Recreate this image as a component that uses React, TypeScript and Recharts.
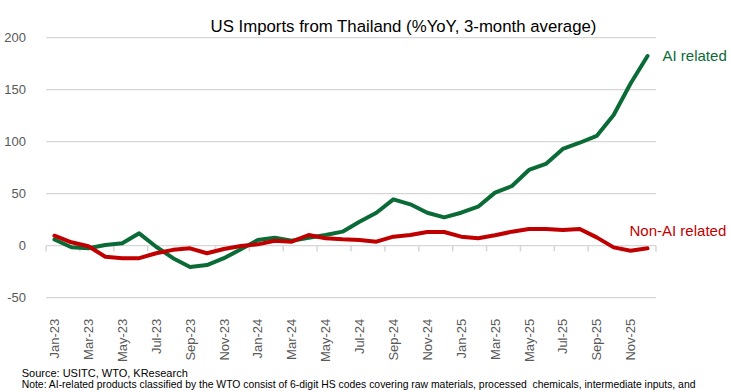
import React from "react";
import { LineChart, Line, XAxis, YAxis, CartesianGrid, ReferenceLine, LabelList } from "recharts";

const categories = [
  "Jan-23","Feb-23","Mar-23","Apr-23","May-23","Jun-23","Jul-23","Aug-23","Sep-23","Oct-23","Nov-23","Dec-23",
  "Jan-24","Feb-24","Mar-24","Apr-24","May-24","Jun-24","Jul-24","Aug-24","Sep-24","Oct-24","Nov-24","Dec-24",
  "Jan-25","Feb-25","Mar-25","Apr-25","May-25","Jun-25","Jul-25","Aug-25","Sep-25","Oct-25","Nov-25","Dec-25",
];
const aiRelated = [
  6, -1.5, -2.5, 0.7, 2.3, 11.9, -1, -12, -20.5, -18.6, -12, -3.5,
  5.5, 7.7, 4.8, 7.7, 10.3, 13.5, 23, 31.7, 44.6, 39.8, 31.7, 27.3,
  31.7, 37.5, 51, 57.4, 72.8, 78.6, 93, 99, 105.5, 125.7, 156, 182.4,
];
const nonAiRelated = [
  9.6, 3.3, -0.5, -10.6, -12, -12, -7.3, -4, -2.5, -7.3, -3.2, -0.3,
  1.3, 4.8, 3.9, 10.3, 7.1, 6.1, 5.5, 3.9, 8.7, 10.3, 13.2, 13.2,
  8.7, 7.1, 10, 13.5, 16, 16, 15.1, 16, 8, -1.6, -4.8, -2.5,
];
const yTicks = [-50, 0, 50, 100, 150, 200];
const seriesNames = { ai: "AI related", nonAi: "Non-AI related" };
const title = "US Imports from Thailand (%YoY, 3-month average)";
const sourceText = "Source: USITC, WTO, KResearch";
const noteText =
  "Note: AI-related products classified by the WTO consist of 6-digit HS codes covering raw materials, processed  chemicals, intermediate inputs, and";

const data = categories.map((c, i) => ({ month: c, ai: aiRelated[i], nonAi: nonAiRelated[i] }));
const tickMarkCats = categories.filter((_, i) => i % 2 === 0);

const FONT = "'Liberation Sans', Arial, sans-serif";
const GREEN = "#0b6b37";
const RED = "#c00000";
const GRID = "#d6d6d6";
const last = categories.length - 1;

const XTick = (props: any) => {
  const { x, y, payload } = props;
  return (
    <g transform={`translate(${x},${y + 13})`}>
      <text transform="rotate(-90)" textAnchor="end" dy="0.36em" fontSize={13} fill="#595959" fontFamily={FONT}>
        {payload.value}
      </text>
    </g>
  );
};

const makeEndLabel = (text: string, color: string, dx: number, dy: number, anchor: string) => (props: any) => {
  const { x, y, index } = props;
  if (index !== last) return null;
  return (
    <text x={x + dx} y={y + dy} dy="0.36em" textAnchor={anchor} fontSize={15} fill={color} fontFamily={FONT}>
      {text}
    </text>
  );
};

export default function App() {
  return (
    <div style={{ position: "absolute", left: 0, top: 0, width: 731, height: 392, background: "#fff" }}>
      <LineChart
        width={731}
        height={392}
        data={data}
        margin={{ top: 37.7, right: 75, bottom: 34.3, left: 0 }}
        style={{ fontFamily: FONT }}
      >
        <CartesianGrid vertical={false} stroke={GRID} strokeWidth={1.3} />
        <XAxis
          dataKey="month"
          scale="band"
          interval={1}
          axisLine={false}
          tickLine={false}
          height={60}
          tick={<XTick />}
        />
        <YAxis
          domain={[-50, 200]}
          ticks={yTicks}
          width={46}
          axisLine={false}
          tickLine={false}
          tickSize={0}
          tickMargin={20}
          tick={{ fontSize: 13, fill: "#595959", fontFamily: FONT }}
        />
        {tickMarkCats.map((c) => (
          <ReferenceLine
            key={c}
            segment={[{ x: c, y: 0 }, { x: c, y: -5.5 }]}
            position="start"
            stroke={GRID}
            strokeWidth={1.5}
          />
        ))}
        <ReferenceLine
          segment={[{ x: categories[last], y: 0 }, { x: categories[last], y: -5.5 }]}
          position="end"
          stroke={GRID}
          strokeWidth={1.5}
        />
        <Line
          dataKey="ai"
          stroke={GREEN}
          strokeWidth={4}
          strokeLinecap="round"
          strokeLinejoin="round"
          dot={false}
          isAnimationActive={false}
        >
          <LabelList dataKey="ai" content={makeEndLabel(seriesNames.ai, GREEN, 15, 0, "start")} />
        </Line>
        <Line
          dataKey="nonAi"
          stroke={RED}
          strokeWidth={4}
          strokeLinecap="round"
          strokeLinejoin="round"
          dot={false}
          isAnimationActive={false}
        >
          <LabelList dataKey="nonAi" content={makeEndLabel(seriesNames.nonAi, RED, -18, -17.5, "start")} />
        </Line>
      </LineChart>
      <svg width={731} height={392} style={{ position: "absolute", left: 0, top: 0, pointerEvents: "none" }}>
        <text x={403.5} y={31.7} textAnchor="middle" fontSize={16.8} fill="#000" fontFamily={FONT}>
          {title}
        </text>
        <text x={21.7} y={377} fontSize={11} fill="#000" fontFamily={FONT}>
          {sourceText}
        </text>
        <text x={21.7} y={387.7} fontSize={10.4} fill="#000" fontFamily={FONT} style={{ whiteSpace: "pre" }}>
          {noteText}
        </text>
      </svg>
    </div>
  );
}
